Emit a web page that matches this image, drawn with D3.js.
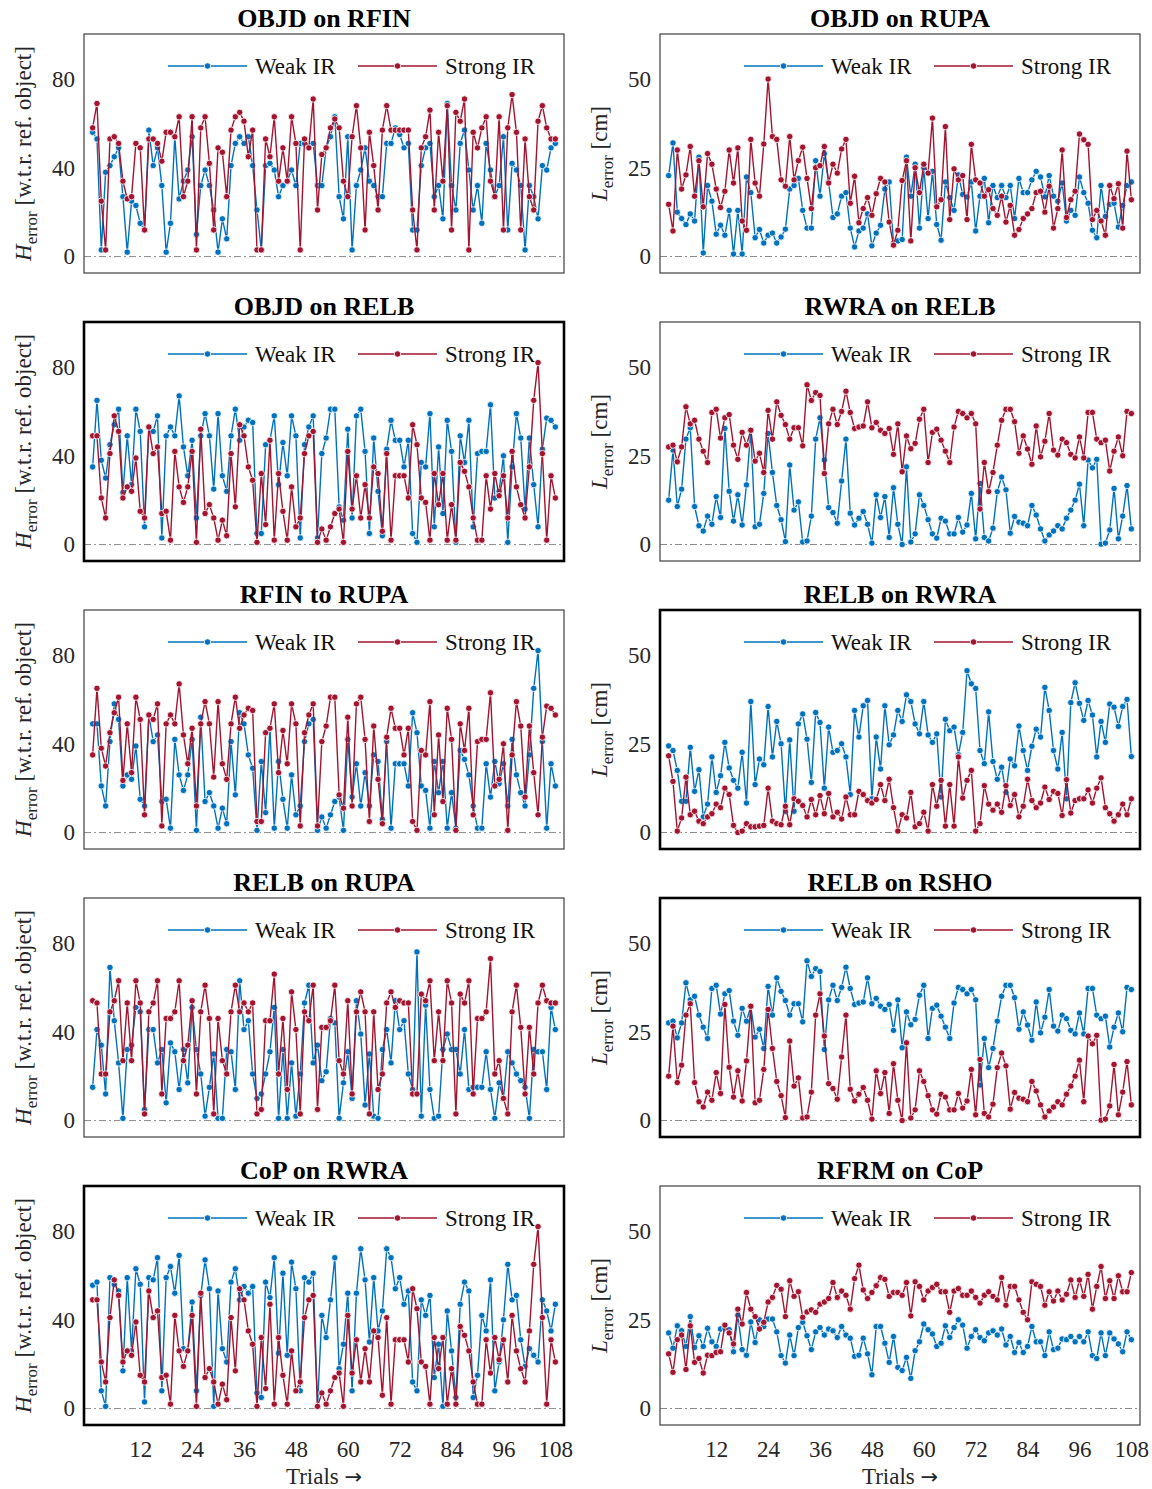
<!DOCTYPE html>
<html>
<head>
<meta charset="utf-8">
<script src="https://cdn.jsdelivr.net/npm/d3@7"></script>
<style>
  body { margin: 0; background: #fff; }
  text { font-family: "Liberation Serif", "Times New Roman", serif; }
</style>
</head>
<body>
<div id="chart"></div>
<script>
// Trials and tick labels
const trials = d3.range(1, 109);
const xTickLabels = [12, 24, 36, 48, 60, 72, 84, 96, 108];
const hTicks = [0, 40, 80];
const lTicks = [0, 25, 50];

// OBJD on RFIN
const objdRfinWeak = [56,53,3,38,41,45,49,27,2,25, 23,15,12,57,41,49,32,2,15,54, 26,34,39,54,10,32,39,32,21,2,
  17,8,41,51,54,51,54,41,21,3, 41,42,39,27,32,34,39,32,51,51, 49,51,32,32,49,54,63,27,17,54,
  3,32,39,49,34,32,27,27,51,51, 58,55,49,51,12,12,41,49,51,27, 32,17,69,32,21,51,57,39,21,32,
  15,51,39,27,32,54,12,42,39,32, 3,32,27,17,41,39,49,51];
const objdRfinStrong = [58,69,25,3,53,54,51,34,26,27, 51,49,12,53,53,51,43,56,56,54, 63,27,34,63,3,58,63,42,12,49,
  47,27,57,63,65,61,45,57,3,3, 53,45,63,34,49,34,63,51,3,53, 49,71,21,46,49,58,62,58,34,27,
  54,68,49,12,56,41,21,57,68,57, 57,57,57,57,21,3,49,54,66,21, 56,34,68,12,65,61,71,3,56,49,
  58,63,34,27,63,12,58,73,56,12, 53,27,21,61,68,58,53,53];

// OBJD on RUPA
const objdRupaWeak = [22.8,32,12.5,10.7,9,12,10,28,1,20, 15.6,6.3,8.8,6,13,0.7,13,0.7,22.4,18,
  5.3,7.6,3.8,6,6.6,3.8,5.5,7.7,19,20, 22,13,8,8,27,17,29,21,11,12, 17,18,8,2.7,7.2,8,12,3,6.6,8.8,
  19,21,3.8,4.4,4.8,28,17,26,8,25, 10.7,24,9,4.6,21,16.6,13,23,17.5,16.8, 21,7.2,17,22,9.5,20,16.6,20,16.6,20,
  10.7,22,18,18,21.6,24,22.4,16.8,22.8,17, 15.6,20.7,10,13,11.6,22.4,18,15,7.4,5.3, 20,11.3,14.7,15,8.3,14.4,20,21];
const objdRupaStrong = [14.7,7.2,30,19,23,31,17,27,14,29, 26,19,13.8,18.4,30,20.7,30.6,10,7.4,33,
  20.7,17,31.7,50,33.8,33,21.6,19.8,33.8,21.6, 27,30.8,22,13.5,25,25.6,31,20.7,26,23.5,
  30.3,33,15,22.6,9.5,13.5,16.6,11.6,17.7,22, 21,9.7,3.2,7.4,21.4,27,4.4,25,18,26,
  23.5,39,14,16,36.6,10.4,24.7,21.6,22.8,10.4, 31.6,21.6,20.7,17,18.8,13.5,11.6,17,9.7,14.4,
  6,7.6,10.7,12,13.5,18,18.4,12.5,19.8,8, 13.5,30,11,16,18.4,34.5,32.9,31.6,10.4,13, 10,6,20,16.3,20.5,8,29.7,16];

// OBJD on RELB
const objdRelbWeak = [35,65,38,30,45,54,61,23.5,49,27, 61,51,8,53,51,58,3,49,53,49, 67,44,31,47,12,49,59,49,25,59,
  31,24,49,61,47,53,56,55,5,5, 45,47,58,27,46,31,58,49,3,45, 53,58,3,41,48,61,61,17,11,52,
  12,58,61,42,5,48,24,4,43,56, 47,47,35,47,5,1,37,35,59,8, 44,14,56,42,1,49,37,56,8,41,
  42,42,63,21,24,40,1,35,59,48, 16,48,27,8,43,57,56,53];
const objdRelbStrong = [49,49,21,12,41,58,51,21,26,24, 39,15,12,53,41,44,14,15,2,42, 26,19,26,42,1,52,14,18,12,2,
  11,4,41,17,54,49,35,29,1,32, 9,47,2,32,15,2,26,8,12,41, 49,51,1,7,2,8,14,16,1,42,
  16,31,12,27,12,35,32,6,41,2, 31,31,31,21,54,45,21,19,2,32, 18,32,2,18,2,37,33,26,12,2,
  2,31,16,32,22,31,12,42,26,18, 12,35,65,82,41,2,31,21];

// RWRA on RELB
const rwraRelbWeak = [12.5,26.6,10.7,15.6,29.7,32.9,10.7,5.3,3.8,8, 5.7,13.5,7.6,32.7,15,6.6,14,5.5,16.8,32.2,
  5,5.7,14.4,31.3,20.3,11,7,0.8,22.4,9.7, 12,0.7,1,8,29.7,35.7,23.8,10.4,9,6,
  17.9,29.7,8.8,5.5,7.4,9.3,5.7,0.4,14,7.6, 13.5,2,16,5.7,0,21.9,0.7,3,14,11,
  7,3,1.8,7.4,6.6,3,3,7.6,3.5,5.5, 14.4,1.6,17.2,2,1,4.6,14.9,19,15.4,3.2,
  7.9,6.3,6,5.3,11,8.3,4.4,1,2.7,3.8, 5.3,4.4,7.4,9.7,12.5,17,5.3,23.8,21.6,24, 0.1,0.4,4.1,15.8,1.6,8,16.6,4.4];
const rwraRelbStrong = [27.5,28,23.3,27.5,38.8,34,35,29.7,26.3,23.1, 37.2,38.1,30,35.7,36.6,28,24,31.6,28,32.2,
  23.5,25.7,20.3,37.8,29.7,40.2,36.4,33.8,29.7,32.9, 32.9,27.8,45,40.6,42.8,42,20,34,38.1,33.8,
  37.5,43.2,37.2,32.7,33.1,33.4,40.2,32.9,34.4,32.2, 31.3,32.7,25.4,34,20.5,30.6,27,28.5,35.3,38.1,
  23.1,31.6,32.5,29.4,26.3,23.1,33.1,37.5,36.9,35.7, 36.9,34,10,23.1,14.9,20.3,28,35,38.1,38.1,
  34.6,25.7,30.6,26.9,22.6,33.4,24.7,29.1,36.9,26.6, 25.2,29.7,28.7,25.4,24.4,30.3,24.4,37.2,37.2,29.7,
  28.7,29.4,20.7,26.3,30.3,25,37.5,36.9];

// RELB on RWRA
const relbRwraWeak = [24.4,23.1,17.5,8.8,8.8,24,11.6,17.7,4.4,8, 21.3,11.3,16,25.4,18.2,14.7,12.5,22.6,8.3,36.9,
  13.5,20.7,19.1,35.5,21.3,31.3,25,6,26.1,6, 30.6,33.4,26.3,14.1,33.8,31,12.5,29.7,22.6,23.1,
  25,21.3,10.7,34.4,26.9,35.7,37.2,9.5,26.9,17.9, 35.7,24.7,27.5,34.4,31.3,38.8,36.9,30.6,27.8,36.9,
  27.5,25.4,27.8,10,31.9,28.7,29.7,21.9,28.2,45.6, 41.9,40.6,23.1,19.4,34,20,15,18.4,11.3,20.7,
  18.8,30,23.1,17.5,24.3,29.1,26.9,40.9,34.4,23.1, 17.9,28.2,9.5,36.6,42.2,36.4,31.6,37.2,33.1,21.3,
  31.3,25.4,36.2,35.3,29.9,35.5,37.5,21.4];
const relbRwraStrong = [21.6,14.4,0.4,4.1,15.6,5,6,3.2,2.5,4.4, 5.3,8,7,12.5,10.7,2,0,0.4,2.5,1.6,
  1.6,1.8,2,12.5,3.2,2.5,2.2,7.4,2.2,9.5, 8.8,7.6,4.4,9.3,5,10.4,5.3,11,4.4,5.7,
  3.8,10,5,5,11.6,10.7,9,8.3,9.3,13.5, 9,15,7,0.4,5,4.1,11.3,1.6,2.5,5.7,
  0.4,13.5,7.4,14.7,1.8,13.5,1.8,21.3,9.7,14.7, 17.5,0.4,2.5,13.2,8,6.3,8,5.7,13.2,7.6,
  10.7,4.4,7.4,15,9,7,8.3,12.8,9.3,11.6, 11,4.8,14.9,5.5,9,9.5,9.5,12,8.3,12.5, 15.4,7,5.3,3.2,5,8,5,9.5];

// RELB on RUPA
const relbRupaWeak = [15,41,34,12,69,45,26,1,32,34, 51,49,5,41,41,26,32,8,35,31, 14,32,17,51,32,21,2,15,30,1,
  1,32,31,14,63,41,45,21,10,12, 21,31,51,1,32,1,26,2,21,53, 61,26,34,18,22,46,44,1,17,31,
  10,54,39,7,30,2,1,32,41,26, 54,41,45,21,14,76,2,52,14,1, 2,32,39,32,32,21,41,14,15,15,
  15,31,14,1,17,10,31,26,21,18, 15,1,32,31,31,14,51,41];
const relbRupaStrong = [54,53,21,21,49,54,63,27,53,27, 63,53,3,49,53,63,12,46,46,49, 63,27,34,54,12,49,61,46,3,46,
  27,21,49,61,49,53,49,53,3,5, 45,45,66,21,46,14,58,41,3,49, 45,61,5,42,42,45,61,27,21,54,
  12,49,58,49,3,49,14,21,53,58, 51,54,53,53,12,12,57,54,63,27, 49,27,63,53,3,57,53,63,12,46,
  46,49,73,21,27,10,3,49,61,42, 12,42,21,53,61,54,53,53];

// CoP on RWRA (Strong IR repeats the OBJD on RELB strong series)
const copRwraWeak = [55.6,57,8,1,59,56,53,17,59,26, 63,56,3,59,58,68,8,59,64,52, 69,27,26,48,8,51,67,54,1,53,
  27,21,57,63,49,55,52,55,7,5, 57,50,68,25,61,24,66,54,8,59, 57,61,1,42,32,49,68,18,29,52,
  8,52,72,58,30,59,35,44,72,68, 54,59,47,53,12,8,49,42,51,14, 29,1,44,26,5,47,57,53,5,15,
  42,35,58,8,21,40,65,49,51,31, 19,27,24,21,49,44,35,47];

// RFRM on CoP
const rfrmCopWeak = [21.3,17,23.3,21.9,17.5,25.9,17.2,20.5,17.5,22.6, 18.8,17.5,22.4,22.6,22.2,16,26.3,16.6,15,24.4,
  18.6,25,23.1,25.2,25.2,21.6,14.9,12.8,20.7,14.9, 22.8,24.3,20.5,16.6,21.6,22.8,20.7,22.4,21.9,20,
  23.1,20.7,19.8,14.7,15,19.8,15.4,9.5,23.1,23.1, 18.4,13,20.3,11.6,10.7,14.4,8.5,16.3,18.8,23.8,
  22.2,21,17.5,18.4,23.3,20,22.8,25,23.5,17, 20.3,22.2,20,19.1,21.3,21.9,20.7,22.4,17.9,20.3,
  15.8,18.6,15.8,17.5,23.1,18.8,18.8,14.9,21.6,16.6, 17,19.6,19.4,20.3,18.8,20.3,18.8,21.6,14.9,14.1,
  21.3,14.9,21.3,19.6,18.2,16,21.6,19.4];
const rfrmCopStrong = [15.4,10.2,19.4,20.7,11,23.3,13,14.1,10,15, 14.9,15.8,16,23.5,21.3,18.2,28,23.8,32.7,28,
  25.9,22.4,24.3,30,31.3,34.7,33.6,25.9,36,31.6, 32.9,25.7,27.2,27.8,27.1,29.4,30,31,35.5,31.3,
  33.1,31.9,28,36.6,40.4,33.4,31,32.7,34.6,36.9, 36.4,31.6,32.7,32.7,31.9,35.5,26.1,35.7,34.4,30.6,
  33.1,34.1,35,32.9,32.9,27.1,33.1,33.8,31.9,31.9, 33.1,31.3,29.7,31.9,32.9,31.6,30.6,36.9,29.1,34.4,
  34.4,30.6,27.1,25,35.7,35,34.4,29.1,32.9,30.3, 33.1,30.6,32.2,36.2,31.3,36.2,31.6,37.8,28,34.4,
  40,31,36,31,37.4,32.9,32.9,38.3];

// Panel list: left column is H_error, right column is L_error
const panels = [
  {title: "OBJD on RFIN", col: 0, row: 0, weak: objdRfinWeak, strong: objdRfinStrong, bold: false},
  {title: "OBJD on RUPA", col: 1, row: 0, weak: objdRupaWeak, strong: objdRupaStrong, bold: false},
  {title: "OBJD on RELB", col: 0, row: 1, weak: objdRelbWeak, strong: objdRelbStrong, bold: true},
  {title: "RWRA on RELB", col: 1, row: 1, weak: rwraRelbWeak, strong: rwraRelbStrong, bold: false},
  {title: "RFIN to RUPA", col: 0, row: 2, weak: objdRelbStrong, strong: objdRelbWeak, bold: false},
  {title: "RELB on RWRA", col: 1, row: 2, weak: relbRwraWeak, strong: relbRwraStrong, bold: true},
  {title: "RELB on RUPA", col: 0, row: 3, weak: relbRupaWeak, strong: relbRupaStrong, bold: false},
  {title: "RELB on RSHO", col: 1, row: 3, weak: rwraRelbStrong, strong: rwraRelbWeak, bold: true},
  {title: "CoP on RWRA", col: 0, row: 4, weak: copRwraWeak, strong: objdRelbStrong, bold: true},
  {title: "RFRM on CoP", col: 1, row: 4, weak: rfrmCopWeak, strong: rfrmCopStrong, bold: false}
];

const blue = "#0072BD", red = "#A2142F";
const colX = [84, 660];
const rowY0 = 34, rowStep = 288;
const plotW = 480, plotH = 239;

const svg = d3.select("#chart")
    .append("svg")
    .attr("width", 1152)
    .attr("height", 1489);

const x = d3.scaleLinear().domain([-1, 110]).range([0, plotW]);
const yH = d3.scaleLinear().domain([-7.4, 100.3]).range([plotH, 0]);
const yL = d3.scaleLinear().domain([-4.65, 62.7]).range([plotH, 0]);

panels.forEach(p => {
    const g = svg.append("g")
        .attr("transform", `translate(${colX[p.col]},${rowY0 + p.row * rowStep})`);
    const y = p.col === 0 ? yH : yL;

    // Title
    g.append("text")
        .attr("x", plotW / 2)
        .attr("y", -7)
        .attr("text-anchor", "middle")
        .style("font-size", "26px")
        .style("font-weight", "bold")
        .text(p.title);

    // Zero reference line
    g.append("line")
        .attr("x1", 0).attr("x2", plotW)
        .attr("y1", y(0)).attr("y2", y(0))
        .attr("stroke", "#8a8a8a")
        .attr("stroke-width", 1)
        .attr("stroke-dasharray", "7,3,2,3");

    // Y axis ticks
    const yAxis = g.append("g")
        .call(d3.axisLeft(y).tickValues(p.col === 0 ? hTicks : lTicks).tickSize(0).tickPadding(9));
    yAxis.select(".domain").remove();
    yAxis.selectAll("text")
        .style("font-size", "23px")
        .style("font-family", "'Liberation Serif', 'Times New Roman', serif")
        .attr("fill", "#262626");

    // Y axis label
    const yl = g.append("text")
        .attr("transform", `translate(-53,${plotH / 2}) rotate(-90)`)
        .attr("text-anchor", "middle")
        .style("font-size", "23px")
        .attr("fill", "#262626");
    yl.append("tspan").style("font-style", "italic").text(p.col === 0 ? "H" : "L");
    yl.append("tspan").attr("dy", 6).style("font-size", "17px").text("error");
    yl.append("tspan").attr("dy", -6).text(p.col === 0 ? " [w.t.r. ref. object]" : " [cm]");

    // Bottom row: x axis
    if (p.row === 4) {
        const xAxis = g.append("g")
            .attr("transform", `translate(0,${plotH})`)
            .call(d3.axisBottom(x).tickValues(xTickLabels).tickSize(0).tickPadding(16));
        xAxis.select(".domain").remove();
        xAxis.selectAll("text")
            .style("font-size", "23px")
            .style("font-family", "'Liberation Serif', 'Times New Roman', serif")
            .attr("fill", "#262626");
        const xl = g.append("text")
            .attr("x", plotW / 2)
            .attr("y", plotH + 59)
            .attr("text-anchor", "middle")
            .style("font-size", "23px")
            .attr("fill", "#262626");
        xl.append("tspan").text("Trials ");
        xl.append("tspan").style("font-family", "'DejaVu Sans', sans-serif").style("font-size", "21px").text("\u2192");
    }

    // Legend
    const legend = [
        {label: "Weak IR", color: blue, x0: 84},
        {label: "Strong IR", color: red, x0: 274}
    ];
    legend.forEach(l => {
        g.append("line")
            .attr("x1", l.x0).attr("x2", l.x0 + 79)
            .attr("y1", 32).attr("y2", 32)
            .attr("stroke", l.color).attr("stroke-width", 1.5);
        g.append("circle")
            .attr("cx", l.x0 + 39.5).attr("cy", 32).attr("r", 3.2)
            .attr("fill", l.color).attr("stroke", "#fff").attr("stroke-width", 0.8);
        g.append("text")
            .attr("x", l.x0 + 87)
            .attr("y", 32)
            .attr("dy", "0.35em")
            .style("font-size", "23px")
            .attr("fill", "#111")
            .text(l.label);
    });

    // Series
    const line = d3.line()
        .x((d, i) => x(trials[i]))
        .y(d => y(d));
    [[p.weak, blue], [p.strong, red]].forEach(([vals, color]) => {
        g.append("path")
            .datum(vals)
            .attr("fill", "none")
            .attr("stroke", color)
            .attr("stroke-width", 1.4)
            .attr("d", line);
        g.selectAll(null)
            .data(vals)
            .join("circle")
            .attr("cx", (d, i) => x(trials[i]))
            .attr("cy", d => y(d))
            .attr("r", 3.2)
            .attr("fill", color)
            .attr("stroke", "#fff")
            .attr("stroke-width", 0.8);
    });

    // Frame
    g.append("rect")
        .attr("width", plotW)
        .attr("height", plotH)
        .attr("fill", "none")
        .attr("stroke", p.bold ? "#000" : "#4d4d4d")
        .attr("stroke-width", p.bold ? 2.6 : 1.3);
});
</script>
</body>
</html>
